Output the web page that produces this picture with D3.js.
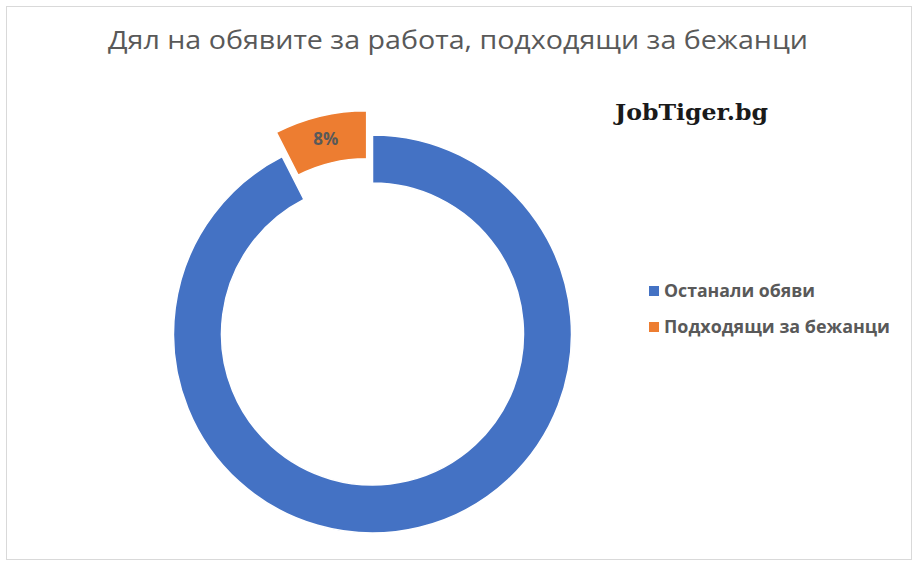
<!DOCTYPE html>
<html>
<head>
<meta charset="utf-8">
<script src="https://cdn.jsdelivr.net/npm/d3@7"></script>
<style>
  body { margin: 0; background: #fff; }
  svg { display: block; }
</style>
</head>
<body>
<svg id="canvas" width="922" height="568"></svg>
<script>
const categories = ['Останали обяви', 'Подходящи за бежанци'];
const values = [92.5, 7.5];
const labels = ['', '8%'];
const colors = ['#4472C4', '#ED7D31'];

const title = 'Дял на обявите за работа, подходящи за бежанци';

const svg = d3.select('#canvas');

// chart frame
svg.append('rect')
  .attr('x', 6.5).attr('y', 6.5)
  .attr('width', 905).attr('height', 553)
  .attr('fill', '#fff')
  .attr('stroke', '#d9d9d9');

svg.append('text')
  .attr('x', 458).attr('y', 49)
  .attr('text-anchor', 'middle')
  .attr('font-family', 'Open Sans, sans-serif')
  .attr('font-size', 25)
  .attr('fill', '#595959')
  .attr('textLength', 700)
  .attr('lengthAdjust', 'spacingAndGlyphs')
  .text(title);

svg.append('text')
  .attr('x', 615).attr('y', 120)
  .attr('font-family', 'DejaVu Serif, serif')
  .attr('font-weight', 'bold')
  .attr('font-size', 22)
  .attr('fill', '#1a1a1a')
  .attr('textLength', 153)
  .attr('lengthAdjust', 'spacingAndGlyphs')
  .text('JobTiger.bg');

const cx = 372.5;
const cy = 334;
const outerR = 199;
const innerR = 151;
const explode = 25;

const pie = d3.pie().sort(null).value((d) => d);
const arcs = pie(values);

const arc = d3.arc().innerRadius(innerR).outerRadius(outerR);

const g = svg.append('g').attr('transform', `translate(${cx},${cy})`);

// only the small slice is pulled out
const offset = (d, i) => {
  if (i !== 1) return [0, 0];
  const a = (d.startAngle + d.endAngle) / 2;
  return [Math.sin(a) * explode, -Math.cos(a) * explode];
};

g.selectAll('path')
  .data(arcs)
  .enter()
  .append('path')
  .attr('d', arc)
  .attr('transform', (d, i) => `translate(${offset(d, i)})`)
  .attr('fill', (d, i) => colors[i])
  .attr('stroke', '#fff')
  .attr('stroke-width', 1.5);

g.selectAll('text.lbl')
  .data(arcs)
  .enter()
  .append('text')
  .attr('class', 'lbl')
  .attr('transform', (d, i) => {
    const c = arc.centroid(d);
    const o = offset(d, i);
    return `translate(${c[0] + o[0]},${c[1] + o[1]})`;
  })
  .attr('text-anchor', 'middle')
  .attr('dy', '0.35em')
  .attr('font-family', 'Open Sans, sans-serif')
  .attr('font-weight', 'bold')
  .attr('font-size', 17)
  .attr('fill', '#595959')
  .text((d, i) => labels[i]);

// legend
const legend = svg.append('g').attr('transform', 'translate(649,291)');

const items = legend.selectAll('g')
  .data(categories)
  .enter()
  .append('g')
  .attr('transform', (d, i) => `translate(0,${i * 36})`);

items.append('rect')
  .attr('x', 0).attr('y', -5)
  .attr('width', 10).attr('height', 10)
  .attr('fill', (d, i) => colors[i]);

items.append('text')
  .attr('x', 15)
  .attr('dy', '0.35em')
  .attr('font-family', 'Open Sans, sans-serif')
  .attr('font-weight', 'bold')
  .attr('font-size', 17)
  .attr('fill', '#595959')
  .attr('textLength', (d, i) => [151, 226][i])
  .attr('lengthAdjust', 'spacingAndGlyphs')
  .text((d) => d);
</script>
</body>
</html>
